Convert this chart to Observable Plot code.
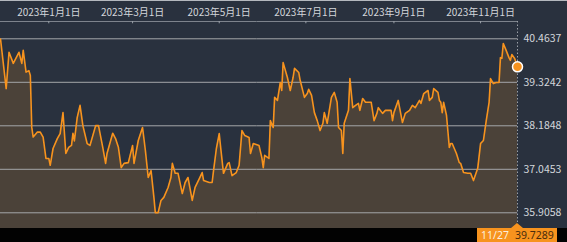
<!DOCTYPE html>
<html><head><meta charset="utf-8">
<script src="https://cdn.jsdelivr.net/npm/d3@7"></script>
<script src="https://cdn.jsdelivr.net/npm/@observablehq/plot@0.6"></script>
<style>html,body{margin:0;padding:0;background:#29313e;overflow:hidden}</style>
</head><body><div id="chart"></div>
<script>
const dates = [
"2022-11-28","2022-12-02","2022-12-04","2022-12-07","2022-12-11","2022-12-13","2022-12-14","2022-12-16","2022-12-18","2022-12-19",
"2022-12-20","2022-12-21","2022-12-24","2022-12-26","2022-12-28","2022-12-30","2023-01-01","2023-01-02","2023-01-04","2023-01-07",
"2023-01-09","2023-01-11","2023-01-13","2023-01-15","2023-01-17","2023-01-18","2023-01-19","2023-01-21","2023-01-23","2023-01-25",
"2023-01-28","2023-01-30","2023-02-03","2023-02-05","2023-02-08","2023-02-10","2023-02-11","2023-02-15","2023-02-17","2023-02-19",
"2023-02-21","2023-02-23","2023-02-26","2023-03-01","2023-03-02","2023-03-05","2023-03-08","2023-03-10","2023-03-12","2023-03-14",
"2023-03-16","2023-03-17","2023-03-19","2023-03-21","2023-03-23","2023-03-26","2023-03-28","2023-03-29","2023-03-31","2023-04-02",
"2023-04-05","2023-04-07","2023-04-09","2023-04-12","2023-04-14","2023-04-17","2023-04-19","2023-04-20","2023-04-24","2023-04-26",
"2023-04-27","2023-04-29","2023-05-01","2023-05-02","2023-05-04","2023-05-07","2023-05-08","2023-05-10","2023-05-13","2023-05-15",
"2023-05-17","2023-05-19","2023-05-22","2023-05-23","2023-05-25","2023-05-29","2023-05-31","2023-06-01","2023-06-02","2023-06-05",
"2023-06-06","2023-06-08","2023-06-09","2023-06-11","2023-06-13","2023-06-14","2023-06-15","2023-06-18","2023-06-20","2023-06-22",
"2023-06-23","2023-06-26","2023-06-27","2023-06-30","2023-07-02","2023-07-03","2023-07-05","2023-07-07","2023-07-09","2023-07-11",
"2023-07-13","2023-07-14","2023-07-16","2023-07-19","2023-07-21","2023-07-23","2023-07-24","2023-07-26","2023-07-27","2023-07-28",
"2023-07-31","2023-08-01","2023-08-03","2023-08-05","2023-08-07","2023-08-08","2023-08-10","2023-08-12","2023-08-16","2023-08-18",
"2023-08-20","2023-08-21","2023-08-24","2023-08-26","2023-08-30","2023-08-31","2023-09-01","2023-09-04","2023-09-07","2023-09-09",
"2023-09-12","2023-09-14","2023-09-16","2023-09-19","2023-09-20","2023-09-22","2023-09-25","2023-09-26","2023-09-28","2023-09-29",
"2023-10-02","2023-10-03","2023-10-04","2023-10-05","2023-10-06","2023-10-08","2023-10-10","2023-10-11","2023-10-12","2023-10-15",
"2023-10-17","2023-10-18","2023-10-20","2023-10-23","2023-10-25","2023-10-27","2023-10-30","2023-11-01","2023-11-03","2023-11-05",
"2023-11-07","2023-11-08","2023-11-10","2023-11-12","2023-11-14","2023-11-15","2023-11-16","2023-11-17","2023-11-19","2023-11-21",
"2023-11-22","2023-11-23","2023-11-25","2023-11-27"
];
const values = [
40.46,39.16,40.11,39.82,40.11,39.82,40.16,39.59,39.63,39.50,
38.15,37.89,38.02,38.02,37.89,37.33,37.33,37.15,37.59,37.85,
37.98,38.53,37.46,37.62,37.67,37.99,37.79,38.40,38.72,38.19,
37.72,37.67,38.19,38.19,37.62,37.20,37.46,37.99,37.85,37.62,
37.09,37.20,37.22,37.67,37.20,37.80,38.14,37.54,36.83,37.01,
36.31,35.91,35.91,36.23,36.31,36.57,36.83,37.20,36.94,36.94,
36.41,36.70,36.83,36.23,36.57,36.80,36.96,36.75,36.70,36.70,
37.01,37.59,37.98,37.62,36.94,37.20,37.22,36.88,36.96,37.15,
38.06,37.93,37.88,37.46,37.72,37.67,37.35,37.09,37.41,37.33,
38.32,38.14,38.93,38.85,39.32,39.11,39.84,39.45,39.11,39.45,
39.69,39.58,39.37,38.93,39.03,39.14,38.98,38.53,38.32,38.06,
38.25,38.53,38.25,38.93,39.06,38.80,38.14,38.06,37.46,38.25,
38.59,39.42,38.66,38.72,38.77,38.59,38.90,38.80,38.80,38.32,
38.51,38.66,38.51,38.59,38.59,38.32,38.53,38.85,38.27,38.51,
38.59,38.72,38.66,38.85,38.77,39.03,39.11,38.85,38.93,39.16,
39.06,38.85,38.80,38.53,38.80,38.46,37.62,37.72,37.72,37.46,
37.22,37.20,36.96,36.94,36.94,36.75,37.07,37.72,37.80,38.32,
38.80,39.42,39.29,39.32,39.32,39.97,39.95,40.34,40.16,39.97,
39.90,40.05,39.95,39.7289
];
const gridValues = [35.9058, 37.0453, 38.1848, 39.3242, 40.4637];
const tickDates = ["2023-01-01","2023-03-01","2023-05-01","2023-07-01","2023-09-01","2023-11-01"];
const tickLabels = ["2023年1月1日","2023年3月1日","2023年5月1日","2023年7月1日","2023年9月1日","2023年11月1日"];
const lastLabel = "11/27";

const data = dates.map((d, i) => ({date: new Date(d), value: values[i]}));
const last = data[data.length - 1];
const yMin = 35.4945, yMax = 40.917;
const tickDateObjs = tickDates.map(d => new Date(d));
const labelMap = new Map(tickDateObjs.map((d, i) => [+d, tickLabels[i]]));
const txt = "#d3d6db";

const plot = Plot.plot({
  width: 567, height: 242,
  marginLeft: 0, marginRight: 50, marginTop: 21, marginBottom: 14,
  style: {background: "#29313e", fontFamily: "'Noto Sans CJK JP','Noto Sans',sans-serif", fontSize: "10px", color: txt, overflow: "visible"},
  x: {type: "utc", domain: [data[0].date, last.date]},
  y: {domain: [yMin, yMax]},
  marks: [
    Plot.areaY(data, {x: "date", y1: yMin, y2: "value", fill: "#4b4239"}),
    Plot.ruleY(gridValues, {stroke: "#a4a6a9", strokeWidth: 1}),
    Plot.ruleY([yMax], {stroke: "#7d838c"}),
    Plot.ruleX(tickDateObjs, {y1: yMax, y2: yMax - 0.06, stroke: "#9aa0a8"}),
    Plot.ruleX([last.date], {stroke: "#9a9fa6", strokeDasharray: "1.5,2"}),
    Plot.lineY(data, {x: "date", y: "value", stroke: "#f7931e", strokeWidth: 1.6}),
    Plot.dot([last], {x: "date", y: "value", r: 5, fill: "#f7931e", stroke: "#fff", strokeWidth: 1.5}),
    Plot.axisX(tickDateObjs, {anchor: "top", label: null, tickSize: 0, tickPadding: 6, tickFormat: d => labelMap.get(+d), fill: txt}),
    Plot.axisY(gridValues, {anchor: "right", label: null, tickSize: 0, tickPadding: 6, tickFormat: d => d.toFixed(4), fill: txt, fontSize: 10.5})
  ]
});

const svg = d3.select(plot);
// bottom black strip and top border line
svg.insert("rect", ":first-child").attr("x", 0).attr("y", 228).attr("width", 567).attr("height", 14).attr("fill", "#020202");
svg.append("rect").attr("x", 0).attr("y", 0).attr("width", 567).attr("height", 1).attr("fill", "#b4b8be");
// last-value label box
const xp = plot.scale("x").apply(last.date);
const g = svg.append("g").attr("font-family", "'Noto Sans','DejaVu Sans',sans-serif").attr("font-size", 10.5).attr("text-anchor", "start");
g.append("path").attr("d", `M${xp-40},228 H${xp-6} L${xp},223 L${xp+6},228 H${xp+40} V242 H${xp-40} Z`).attr("fill", "#f7931e");
g.append("text").attr("x", xp-36).attr("y", 239).attr("fill", "#fbeede").text(lastLabel);
g.append("text").attr("x", xp-2).attr("y", 239).attr("fill", "#4a2c0c").text(last.value.toFixed(4));

document.getElementById("chart").appendChild(plot);
</script>
</body></html>
